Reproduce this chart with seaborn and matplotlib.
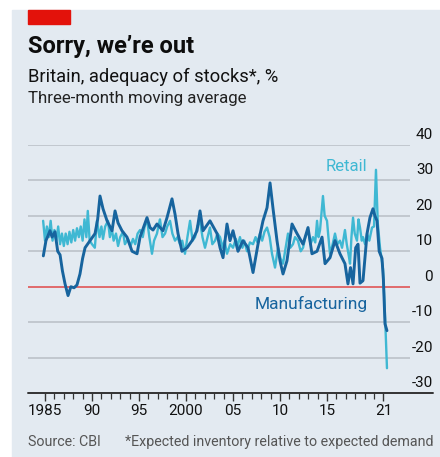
import matplotlib
matplotlib.use("Agg")
import matplotlib.pyplot as plt
import matplotlib.transforms as mtransforms
from matplotlib.patches import Rectangle
from matplotlib.lines import Line2D
import pandas as pd
import seaborn as sns

sns.set_theme(style="white")
plt.rcParams["font.family"] = ["Roboto", "DejaVu Sans"]

# CBI adequacy of stocks, three-month moving average, %
manu_year = [1984.82, 1985.10, 1985.53, 1985.75, 1986.06, 1986.35, 1986.60, 1986.85,
             1987.13, 1987.45, 1987.75, 1988.09, 1988.40, 1988.72, 1989.00, 1989.26,
             1989.79, 1990.32, 1990.60, 1990.85, 1991.17, 1991.60, 1992.13, 1992.45,
             1992.77, 1993.19, 1993.72, 1994.26, 1994.79, 1995.11, 1995.85, 1996.17,
             1996.49, 1996.91, 1997.55, 1997.98, 1998.51, 1998.83, 1999.15, 1999.57,
             2000.11, 2000.64, 2001.17, 2001.49, 2001.81, 2002.55, 2003.30, 2003.62,
             2003.94, 2004.36, 2004.68, 2005.00, 2005.53, 2006.06, 2006.60, 2007.13,
             2007.66, 2008.19, 2008.62, 2008.94, 2009.26, 2009.68, 2010.00, 2010.32,
             2010.74, 2011.28, 2011.81, 2012.45, 2012.98, 2013.40, 2013.94, 2014.47,
             2014.79, 2015.32, 2015.85, 2016.38, 2016.91, 2017.23, 2017.50, 2017.77,
             2018.05, 2018.30, 2018.51, 2018.83, 2019.26, 2019.57, 2019.89, 2020.10,
             2020.32, 2020.55, 2020.85, 2021.00, 2021.17, 2021.38]
manu_val = [8.7, 13.0, 15.8, 14.0, 15.5, 10.0, 9.0, 4.5,
            0.8, -2.5, 0.0, -0.3, 0.5, 3.6, 8.0, 11.0,
            13.0, 15.0, 19.0, 25.6, 22.0, 18.6, 15.8, 21.4,
            18.0, 15.8, 14.0, 10.0, 9.3, 14.0, 19.5, 16.7,
            16.0, 17.7, 15.8, 19.5, 24.8, 20.5, 15.0, 10.0,
            11.0, 13.0, 15.8, 21.4, 15.8, 18.6, 15.0, 11.0,
            8.2, 17.7, 13.0, 15.8, 10.0, 13.0, 11.0, 4.0,
            12.0, 18.6, 22.3, 29.3, 22.0, 13.0, 7.3, 3.6,
            7.3, 17.7, 15.0, 12.0, 16.7, 9.3, 10.0, 14.0,
            6.5, 8.2, 13.0, 9.3, 6.5, 0.8, 5.4, 0.8,
            11.0, 12.0, 1.0, 1.7, 15.0, 19.5, 22.0, 20.0,
            18.6, 10.0, 8.0, 2.0, -10.5, -12.4]

retail_year = [1984.80, 1985.00, 1985.20, 1985.40, 1985.60, 1985.80, 1986.00, 1986.20,
               1986.40, 1986.60, 1986.80, 1987.00, 1987.20, 1987.40, 1987.60, 1987.80,
               1988.00, 1988.20, 1988.40, 1988.60, 1988.80, 1989.00, 1989.20, 1989.40,
               1989.55, 1989.75, 1990.00, 1990.30, 1990.53, 1990.80, 1991.00, 1991.17,
               1991.40, 1991.70, 1991.90, 1992.10, 1992.30, 1992.55, 1992.77, 1993.00,
               1993.30, 1993.50, 1993.83, 1994.10, 1994.36, 1994.60, 1994.85, 1995.11,
               1995.40, 1995.60, 1995.85, 1996.10, 1996.38, 1996.60, 1996.91, 1997.10,
               1997.23, 1997.50, 1997.77, 1998.00, 1998.30, 1998.55, 1998.83, 1999.10,
               1999.36, 1999.60, 1999.89, 2000.15, 2000.43, 2000.70, 2000.96, 2001.20,
               2001.49, 2001.75, 2002.02, 2002.30, 2002.55, 2002.80, 2003.09, 2003.35,
               2003.62, 2003.90, 2004.10, 2004.36, 2004.70, 2005.00, 2005.30, 2005.50,
               2005.74, 2006.00, 2006.20, 2006.49, 2006.80, 2007.13, 2007.40, 2007.60,
               2007.87, 2008.10, 2008.35, 2008.62, 2008.90, 2009.15, 2009.47, 2009.79,
               2010.05, 2010.32, 2010.60, 2010.85, 2011.10, 2011.38, 2011.60, 2011.91,
               2012.20, 2012.45, 2012.70, 2012.98, 2013.25, 2013.51, 2013.75, 2013.94,
               2014.10, 2014.26, 2014.45, 2014.57, 2014.75, 2015.00, 2015.15, 2015.32,
               2015.60, 2015.85, 2016.10, 2016.38, 2016.60, 2016.91, 2017.10, 2017.30,
               2017.45, 2017.60, 2017.77, 2017.95, 2018.19, 2018.35, 2018.51, 2018.70,
               2018.83, 2019.05, 2019.26, 2019.50, 2019.79, 2020.00, 2020.21, 2020.40,
               2020.64, 2020.96, 2021.20, 2021.38]
retail_val = [18.6, 13.0, 17.0, 14.0, 18.6, 13.0, 16.0, 13.0,
              17.0, 12.0, 15.0, 11.5, 15.0, 12.0, 15.5, 12.5,
              16.0, 13.0, 16.5, 14.0, 17.0, 13.0, 19.0, 14.0,
              21.4, 13.0, 12.0, 11.0, 18.6, 14.0, 17.0, 13.5,
              17.0, 18.6, 14.0, 16.5, 13.0, 15.0, 11.5, 14.0,
              15.5, 12.0, 13.5, 11.5, 13.5, 12.0, 15.0, 16.0,
              14.0, 17.0, 19.0, 14.0, 9.3, 13.0, 15.0, 17.5,
              19.0, 14.0, 15.0, 17.0, 18.6, 15.0, 13.0, 14.0,
              12.0, 13.0, 9.3, 14.0, 18.6, 13.0, 14.0, 17.0,
              18.6, 14.0, 11.0, 14.0, 16.7, 12.0, 13.0, 15.0,
              14.0, 11.0, 13.0, 9.3, 12.0, 11.0, 13.5, 11.5,
              14.0, 11.0, 13.0, 10.0, 12.5, 12.0, 14.0, 12.5,
              15.0, 13.0, 15.5, 16.7, 14.0, 9.3, 5.4, 11.0,
              8.0, 6.5, 11.0, 15.0, 11.0, 12.0, 14.0, 13.0,
              10.0, 11.0, 14.0, 16.0, 12.0, 14.0, 12.5, 18.6,
              14.0, 16.0, 22.0, 25.6, 20.0, 18.6, 14.0, 9.3,
              12.0, 15.0, 12.0, 13.0, 11.0, 16.0, 12.0, 9.0,
              6.5, 14.0, 19.5, 15.0, 13.0, 19.0, 16.7, 13.0,
              14.0, 12.0, 15.0, 13.0, 16.7, 17.0, 33.0, 18.0,
              11.0, 5.0, -10.0, -23.0]

y_ticks = [-30, -20, -10, 0, 10, 20, 30, 40]
x_major = [1985, 1990, 1995, 2000, 2005, 2010, 2015, 2021]
x_labels = ["1985", "90", "95", "2000", "05", "10", "15", "21"]

W, H = 440, 457
BG = "#e3eaf1"
RETAIL_C = "#3fb8d3"
MANU_C = "#17649e"

fig = plt.figure(figsize=(W / 100, H / 100), dpi=100)
fig.patches.append(Rectangle((12 / W, 0), 1 - 12 / W, 1 - 10 / H,
                             transform=fig.transFigure, color=BG, zorder=-10))
fig.patches.append(Rectangle((28 / W, 1 - 24 / H), 42 / W, 14 / H,
                             transform=fig.transFigure, color="#e3120b", zorder=-5))

ax = fig.add_axes([28 / W, (H - 393) / H, 382 / W, 248 / H])
ax.set_zorder(2)
ax.set_facecolor("none")
ax.set_xlim(1983.19, 2023.83)
ax.set_ylim(-30, 40)
for s in ax.spines.values():
    s.set_visible(False)

for t in y_ticks:
    if t in (-30, 0):
        continue
    ax.axhline(t, color="#b8bec5", lw=1.1, zorder=1)

df = pd.concat([
    pd.DataFrame({"year": retail_year, "value": retail_val, "series": "Retail"}),
    pd.DataFrame({"year": manu_year, "value": manu_val, "series": "Manufacturing"}),
])
sns.lineplot(data=df[df.series == "Retail"], x="year", y="value", color=RETAIL_C,
             lw=1.7, estimator=None, sort=False, ax=ax, zorder=3)
sns.lineplot(data=df[df.series == "Manufacturing"], x="year", y="value", color=MANU_C,
             lw=2.1, estimator=None, sort=False, ax=ax, zorder=4)
ax.axhline(0, color="#e05555", lw=1.2, zorder=2)

# bottom axis line, running under the right-hand labels
fig.add_artist(Line2D([28 / W, 433 / W], [(H - 393) / H] * 2, color="#333333",
                      lw=1.4, transform=fig.transFigure, zorder=5))

ax.set_xlabel("")
ax.set_ylabel("")
ax.set_yticks([])
ax.set_xticks(x_major)
ax.set_xticklabels(x_labels)
ax.set_xticks(list(range(1985, 2022)), minor=True)
ax.tick_params(axis="x", which="major", direction="out", length=6, width=1,
               color="#333333", labelsize=11, pad=2, labelcolor="#111111", bottom=True)
ax.tick_params(axis="x", which="minor", direction="out", length=4, width=0.9,
               color="#333333", bottom=True)

lab_tr = mtransforms.offset_copy(
    mtransforms.blended_transform_factory(fig.transFigure, ax.transData),
    fig=fig, x=0, y=3, units="dots")
for t in y_ticks:
    ax.text(433 / W, t, str(t), transform=lab_tr, ha="right",
            va="bottom", fontsize=11, color="#111111")

ax.text(2019.26, 32.6, "Retail", color=RETAIL_C, fontsize=12, ha="right",
        va="baseline")
ax.text(2019.36, -6.2, "Manufacturing", color=MANU_C, fontsize=12.5, ha="right",
        va="baseline")

fig.text(28 / W, 1 - 53 / H, "Sorry, we\u2019re out", fontsize=17, fontweight="bold",
         color="#0d0d0d", va="baseline")
fig.text(28 / W, 1 - 82 / H, "Britain, adequacy of stocks*, %", fontsize=13.2,
         color="#111111", va="baseline")
fig.text(28 / W, 1 - 103 / H, "Three-month moving average", fontsize=12.2,
         color="#222222", va="baseline")
fig.text(28 / W, 1 - 446 / H, "Source: CBI", fontsize=10.3, color="#555555",
         va="baseline")
fig.text(433 / W, 1 - 446 / H, "*Expected inventory relative to expected demand",
         fontsize=10.3, color="#555555", va="baseline", ha="right")

fig.savefig("out.png", dpi=100)
